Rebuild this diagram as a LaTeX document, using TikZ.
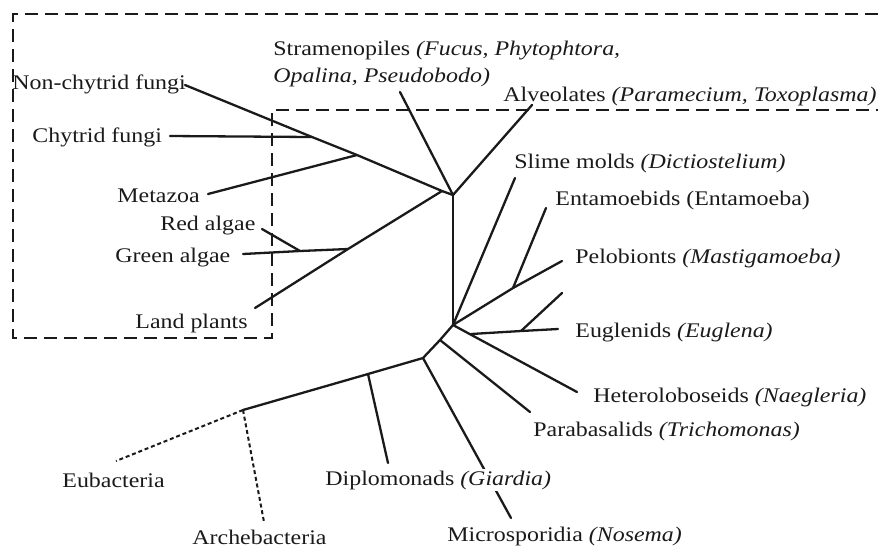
\documentclass[tikz,border=0pt]{standalone}
\usepackage{fontspec}
\setmainfont{Liberation Serif}[FakeStretch=1.15]
\usepackage{tikz}
\usetikzlibrary{positioning}
\definecolor{ink}{HTML}{1A1A1A}

\begin{document}
\begin{tikzpicture}[x=0.5pt, y=-0.5pt, every node/.style={font=\fontsize{10.4}{13.5}\selectfont, text=ink}]
    \tikzstyle{branch} = [draw=ink, line width=1.15pt, line cap=round]
    \tikzstyle{outgroup} = [draw=ink, line width=1pt, dash pattern=on 2pt off 1.4pt]
    \tikzstyle{enclosure} = [draw=ink, line width=1.4pt, dash pattern=on 6.5pt off 3.5pt]
    \tikzstyle{taxon} = [anchor=base west, inner sep=0pt]

    \useasboundingbox (0,0) rectangle (878,548);

    % inner points of the tree
    \coordinate (hub) at (453,195);
    \coordinate (opis) at (442,191);
    \coordinate (metaJ) at (357,155);
    \coordinate (chytJ) at (312,137);
    \coordinate (algaeJ) at (348,249);
    \coordinate (rhodoJ) at (300,251);
    \coordinate (lowhub) at (453,325);
    \coordinate (peloJ) at (513,288);
    \coordinate (heterJ) at (471,334);
    \coordinate (eugJ) at (521,331);
    \coordinate (paraJ) at (440,340);
    \coordinate (microJ) at (423,358);
    \coordinate (diplJ) at (368,374);
    \coordinate (root) at (243,410);

    % leaf ends
    \coordinate (nonchytE) at (185,85);
    \coordinate (chytE) at (170,136);
    \coordinate (metaE) at (208,194);
    \coordinate (plantsE) at (255,308);
    \coordinate (greenE) at (243,254);
    \coordinate (redE) at (262,229);
    \coordinate (stramE) at (400,92);
    \coordinate (alveoE) at (532,105);
    \coordinate (slimeE) at (515,178);
    \coordinate (entamE) at (546,208);
    \coordinate (peloE) at (562,261);
    \coordinate (eugE) at (558,329);
    \coordinate (eugTopE) at (562,293);
    \coordinate (heterE) at (577,392);
    \coordinate (paraE) at (530,412);
    \coordinate (microE) at (511,518);
    \coordinate (diplE) at (388,463);
    \coordinate (eubacE) at (116,461);
    \coordinate (archeE) at (264,522);

    % crown group box
    \draw [enclosure] (878,14) -- (13,14) -- (13,338) -- (272,338) -- (272,110) -- (878,110);

    \path [branch] (nonchytE) -- (chytJ) -- (metaJ) -- (opis) -- (hub);
    \path [branch] (chytE) -- (chytJ);
    \path [branch] (metaE) -- (metaJ);
    \path [branch] (plantsE) -- (algaeJ) -- (opis);
    \path [branch] (greenE) -- (rhodoJ) -- (algaeJ);
    \path [branch] (redE) -- (rhodoJ);
    \path [branch] (stramE) -- (hub);
    \path [branch] (alveoE) -- (hub);
    \path [branch] (hub) -- (lowhub);
    \path [branch] (slimeE) -- (lowhub);
    \path [branch] (lowhub) -- (peloJ) -- (peloE);
    \path [branch] (entamE) -- (peloJ);
    \path [branch] (lowhub) -- (heterE);
    \path [branch] (heterJ) -- (eugJ) -- (eugE);
    \path [branch] (eugTopE) -- (eugJ);
    \path [branch] (lowhub) -- (paraJ) -- (microJ) -- (diplJ) -- (root);
    \path [branch] (paraJ) -- (paraE);
    \path [branch] (microJ) -- (microE);
    \path [branch] (diplJ) -- (diplE);
    \path [outgroup] (root) -- (eubacE);
    \path [outgroup] (root) -- (archeE);

    % labels
    \node [taxon] (nonchyt) at (12,89) {Non-chytrid fungi};
    \node [taxon] (chyt) at (32,142) {Chytrid fungi};
    \node [taxon] (meta) at (117,202) {Metazoa};
    \node [taxon] (red) at (160,230) {Red algae};
    \node [taxon] (green) at (115,262) {Green algae};
    \node [taxon] (plants) at (135,328) {Land plants};
    \node [inner sep=0pt, anchor=north west, align=left] (stram) at (273,41) {Stramenopiles \textit{(Fucus, Phytophtora,}\\\textit{Opalina, Pseudobodo)}};
    \node [taxon] (alveo) at (503,101) {Alveolates \textit{(Paramecium, Toxoplasma)}};
    \node [taxon] (slime) at (514,168) {Slime molds \textit{(Dictiostelium)}};
    \node [taxon] (entam) at (555,205) {Entamoebids (Entamoeba)};
    \node [taxon] (pelo) at (575,263) {Pelobionts \textit{(Mastigamoeba)}};
    \node [taxon] (eug) at (575,337) {Euglenids \textit{(Euglena)}};
    \node [taxon] (heter) at (593,402) {Heteroloboseids \textit{(Naegleria)}};
    \node [taxon] (para) at (533,436) {Parabasalids \textit{(Trichomonas)}};
    \node [taxon, fill=white, inner sep=1pt] (dipl) at (323,485) {Diplomonads \textit{(Giardia)}};
    \node [taxon] (micro) at (447,541) {Microsporidia \textit{(Nosema)}};
    \node [taxon] (eubac) at (62,487) {Eubacteria};
    \node [taxon] (arche) at (192,544) {Archebacteria};
\end{tikzpicture}
\end{document}
